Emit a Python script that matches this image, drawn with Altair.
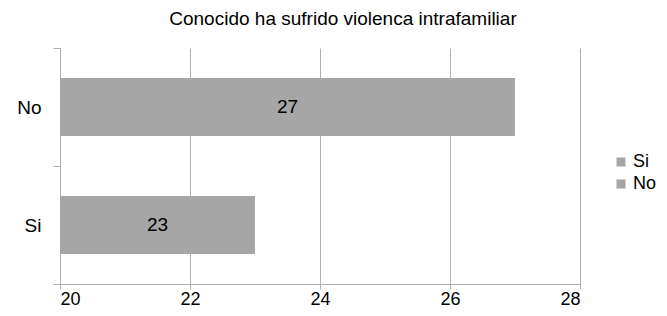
import altair as alt
import pandas as pd

categories = ["No", "Si"]
values = [27, 23]
legend_order = ["Si", "No"]
x_ticks = [20, 22, 24, 26, 28]

df = pd.DataFrame({"cat": categories, "val": values})

FONT = "Liberation Sans"
GRAY = "#a6a6a6"
AX = "#b0b0b0"
FS = 19

y_enc = alt.Y(
    "cat:N",
    sort=categories,
    title=None,
    scale=alt.Scale(paddingInner=0, paddingOuter=0),
    axis=alt.Axis(
        tickBand="extent",
        domainColor=AX,
        tickColor=AX,
        tickSize=7,
        labelFontSize=FS,
        labelFont=FONT,
        labelColor="#000000",
        labelPadding=12,
        grid=False,
    ),
)

x_scale = alt.Scale(domain=[20, 28], zero=False, nice=False)

bars = alt.Chart(df).mark_bar(
    color=GRAY, height=alt.RelativeBandSize(band=0.49)
).encode(
    x=alt.X(
        "val:Q",
        scale=x_scale,
        title=None,
        axis=alt.Axis(
            values=x_ticks,
            format="d",
            grid=True,
            gridColor=AX,
            domainColor=AX,
            tickColor=AX,
            tickSize=5,
            labelFontSize=18,
            labelFont=FONT,
            labelColor="#000000",
            labelPadding=1,
        ),
    ),
    x2=alt.datum(20),
    y=y_enc,
    color=alt.Color(
        "cat:N",
        scale=alt.Scale(domain=legend_order, range=[GRAY, GRAY]),
        legend=alt.Legend(
            title=None,
            orient="none",
            legendX=552,
            legendY=105,
            padding=0,
            symbolType="square",
            symbolSize=81,
            symbolStrokeWidth=0,
            labelFontSize=18,
            labelFont=FONT,
            labelColor="#000000",
            rowPadding=4,
            labelOffset=3,
        ),
    ),
)

labels = alt.Chart(df).transform_calculate(
    mid="(datum.val + 20) / 2"
).mark_text(fontSize=FS, font=FONT, color="#000000").encode(
    x=alt.X("mid:Q", scale=x_scale),
    y=alt.Y("cat:N", sort=categories),
    text=alt.Text("val:Q"),
)

chart = (
    alt.layer(bars, labels)
    .properties(
        width=520,
        height=236,
        autosize="none",
        padding={"left": 52, "top": 40, "right": 79, "bottom": 24},
        title=alt.TitleParams(
            "Conocido ha sufrido violenca intrafamiliar",
            fontSize=FS,
            font=FONT,
            fontWeight="normal",
            color="#000000",
            anchor="middle",
            dx=23,
            offset=10,
        ),
    )
    .configure_view(stroke=None)
)

chart.save("out.html", embed_options={"renderer": "svg", "actions": False})
